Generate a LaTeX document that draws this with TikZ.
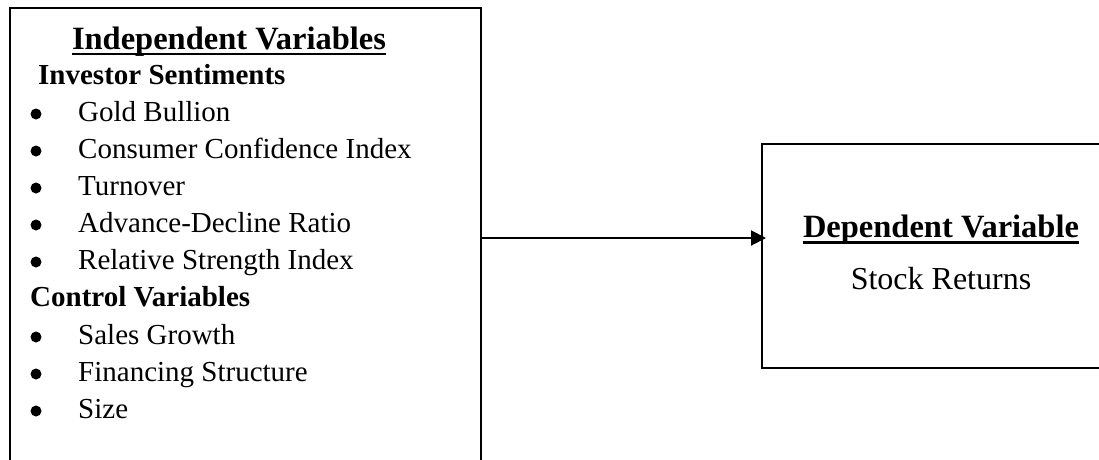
\documentclass[tikz,border=0pt]{standalone}
\usepackage{fontspec}
\setmainfont{Liberation Serif}
\usetikzlibrary{arrows.meta}
\begin{document}
\begin{tikzpicture}[x=1pt,y=-1pt,
  txt/.style={anchor=base west,inner sep=0pt,font=\fontsize{29}{32}\selectfont},
  sub/.style={anchor=base west,inner sep=0pt,font=\fontsize{29}{32}\selectfont\bfseries},
  head/.style={anchor=base,inner sep=0pt,font=\fontsize{32.5}{36}\selectfont\bfseries},
  plain/.style={anchor=base,inner sep=0pt,font=\fontsize{32}{36}\selectfont},
  bul/.style={circle,fill=black,inner sep=0pt,minimum size=11pt},
  frame/.style={draw=black,line width=2pt,inner sep=0pt,anchor=north west},
  uline/.style={line width=2.5pt},
  conn/.style={line width=2pt,-{Triangle[length=15pt,width=15pt]}}]
\useasboundingbox (0,0) rectangle (1099,459);
\begin{scope}
\clip (0,0) rectangle (1099,459);
\node[frame,minimum width=471pt,minimum height=480pt] (indep) at (9,7) {};
\node[frame,minimum width=359pt,minimum height=224pt] (dep) at (761,143) {};
\coordinate (a) at (480,238);
\draw[conn,shorten >=-5pt] (indep.east |- a) -- (dep.west |- a);
\end{scope}
% left box text
\node[head] (h1) at (229,49) {Independent Variables};
\draw[uline] ([yshift=-5pt]h1.base west) -- ([yshift=-5pt]h1.base east);
\node[sub] (s1) at (38,84) {Investor Sentiments};
\node[bul] (b1) at (36,114) {};
\node[txt] (i1) at (78,121) {Gold Bullion};
\node[bul] (b2) at (36,151) {};
\node[txt] (i2) at (78,158) {Consumer Confidence Index};
\node[bul] (b3) at (36,188) {};
\node[txt] (i3) at (78,195) {Turnover};
\node[bul] (b4) at (36,225) {};
\node[txt] (i4) at (78,232) {Advance-Decline Ratio};
\node[bul] (b5) at (36,262) {};
\node[txt] (i5) at (78,269) {Relative Strength Index};
\node[sub] (s2) at (30,306) {Control Variables};
\node[bul] (b6) at (36,337) {};
\node[txt] (i6) at (78,344) {Sales Growth};
\node[bul] (b7) at (36,374) {};
\node[txt] (i7) at (78,381) {Financing Structure};
\node[bul] (b8) at (36,411) {};
\node[txt] (i8) at (78,418) {Size};
% right box text
\node[head] (h2) at (941,237) {Dependent Variable};
\draw[uline] ([yshift=-5.5pt]h2.base west) -- ([yshift=-5.5pt]h2.base east);
\node[plain] (t2) at (941,289) {Stock Returns};
\end{tikzpicture}
\end{document}
